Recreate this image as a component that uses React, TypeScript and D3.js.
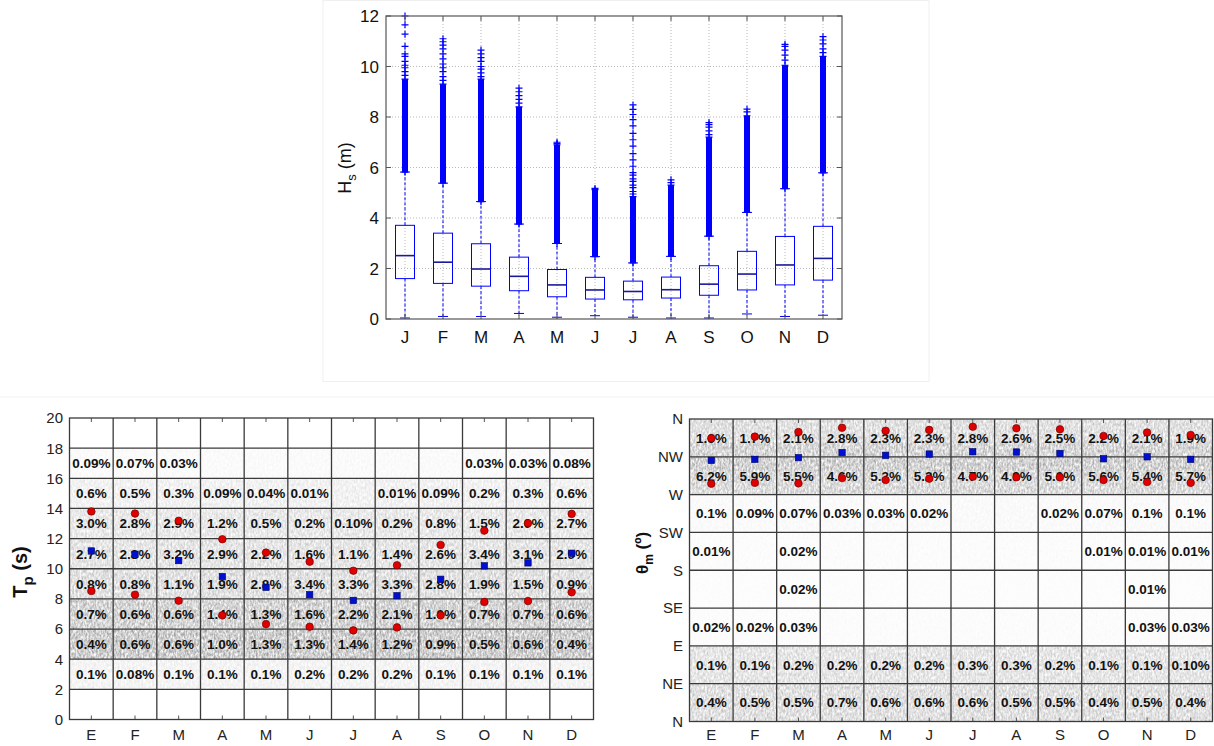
import React from "react";
import * as d3 from "d3";

// ---------- data ----------
const monthsTop = ["J", "F", "M", "A", "M", "J", "J", "A", "S", "O", "N", "D"];
const monthsBottom = ["E", "F", "M", "A", "M", "J", "J", "A", "S", "O", "N", "D"];

// Monthly Hs box statistics (m)
const hsQ1 = [1.6, 1.41, 1.3, 1.12, 0.88, 0.79, 0.76, 0.83, 0.94, 1.15, 1.35, 1.54];
const hsMedian = [2.51, 2.25, 1.98, 1.69, 1.35, 1.15, 1.09, 1.16, 1.38, 1.78, 2.14, 2.4];
const hsQ3 = [3.71, 3.4, 2.98, 2.45, 1.96, 1.65, 1.5, 1.66, 2.11, 2.68, 3.27, 3.67];
const hsWhiskerLow = [0.04, 0.1, 0.1, 0.22, 0.07, 0.13, 0.07, 0.04, 0.04, 0.2, 0.1, 0.15];
const hsWhiskerHigh = [5.82, 5.38, 4.65, 3.76, 2.99, 2.47, 2.22, 2.48, 3.28, 4.22, 5.16, 5.79];
// outliers packed so densely that they merge into a continuous band
const hsDenseTop = [9.5, 9.3, 9.5, 8.4, 6.9, 5.12, 4.85, 5.3, 7.2, 8.05, 10.05, 10.4];
// remaining individual outliers
const hsOutliers = [
  [9.65, 9.8, 9.95, 10.05, 10.2, 10.4, 10.5, 10.8, 11.28, 11.65, 12.0],
  [9.45, 9.6, 9.8, 9.95, 10.1, 10.3, 10.5, 10.7, 10.85, 10.98, 11.1],
  [9.6, 9.75, 9.9, 10.0, 10.2, 10.35, 10.5, 10.65],
  [8.55, 8.7, 8.85, 9.0, 9.14],
  [6.95, 7.0],
  [5.17],
  [4.95, 5.05, 5.2, 5.3, 5.45, 5.55, 5.7, 5.8, 6.05, 6.3, 6.55, 6.85, 7.1, 7.35, 7.65, 7.9, 8.1, 8.3, 8.48],
  [5.4, 5.51],
  [7.3, 7.45, 7.6, 7.7, 7.78],
  [8.2, 8.31],
  [10.25, 10.45, 10.65, 10.8, 10.88],
  [10.55, 10.7, 10.9, 11.05, 11.18],
];

// Tp occurrence per month and 2 s bin (lower edge of bin)
const tpBins = [2, 4, 6, 8, 10, 12, 14, 16];
const tpPct = [
  ["0.1%", "0.08%", "0.1%", "0.1%", "0.1%", "0.2%", "0.2%", "0.2%", "0.1%", "0.1%", "0.1%", "0.1%"],
  ["0.4%", "0.6%", "0.6%", "1.0%", "1.3%", "1.3%", "1.4%", "1.2%", "0.9%", "0.5%", "0.6%", "0.4%"],
  ["0.7%", "0.6%", "0.6%", "1.4%", "1.3%", "1.6%", "2.2%", "2.1%", "1.0%", "0.7%", "0.7%", "0.6%"],
  ["0.8%", "0.8%", "1.1%", "1.9%", "2.8%", "3.4%", "3.3%", "3.3%", "2.8%", "1.9%", "1.5%", "0.9%"],
  ["2.7%", "2.8%", "3.2%", "2.9%", "2.2%", "1.6%", "1.1%", "1.4%", "2.6%", "3.4%", "3.1%", "2.9%"],
  ["3.0%", "2.8%", "2.9%", "1.2%", "0.5%", "0.2%", "0.10%", "0.2%", "0.8%", "1.5%", "2.0%", "2.7%"],
  ["0.6%", "0.5%", "0.3%", "0.09%", "0.04%", "0.01%", "", "0.01%", "0.09%", "0.2%", "0.3%", "0.6%"],
  ["0.09%", "0.07%", "0.03%", "", "", "", "", "", "", "0.03%", "0.03%", "0.08%"],
];
const tpPeakHigh = [13.8, 13.66, 13.18, 11.96, 11.07, 10.47, 9.87, 10.23, 11.58, 12.53, 13.02, 13.64];
const tpMean = [11.18, 10.96, 10.54, 9.48, 8.77, 8.28, 7.9, 8.21, 9.3, 10.19, 10.39, 11.03];
const tpPeakLow = [8.52, 8.28, 7.88, 6.91, 6.33, 6.15, 5.91, 6.11, 6.91, 7.8, 7.86, 8.44];

// Mean direction occurrence per month and 45° sector (lower edge of sector)
const dirBins = [0, 45, 90, 135, 180, 225, 270, 315];
const dirTicks = ["N", "NE", "E", "SE", "S", "SW", "W", "NW", "N"];
const dirPct = [
  ["0.4%", "0.5%", "0.5%", "0.7%", "0.6%", "0.6%", "0.6%", "0.5%", "0.5%", "0.4%", "0.5%", "0.4%"],
  ["0.1%", "0.1%", "0.2%", "0.2%", "0.2%", "0.2%", "0.3%", "0.3%", "0.2%", "0.1%", "0.1%", "0.10%"],
  ["0.02%", "0.02%", "0.03%", "", "", "", "", "", "", "", "0.03%", "0.03%"],
  ["", "", "0.02%", "", "", "", "", "", "", "", "0.01%", ""],
  ["0.01%", "", "0.02%", "", "", "", "", "", "", "0.01%", "0.01%", "0.01%"],
  ["0.1%", "0.09%", "0.07%", "0.03%", "0.03%", "0.02%", "", "", "0.02%", "0.07%", "0.1%", "0.1%"],
  ["6.2%", "5.9%", "5.5%", "4.6%", "5.3%", "5.2%", "4.7%", "4.9%", "5.0%", "5.6%", "5.4%", "5.7%"],
  ["1.6%", "1.7%", "2.1%", "2.8%", "2.3%", "2.3%", "2.8%", "2.6%", "2.5%", "2.2%", "2.1%", "1.9%"],
];
const dirPeakHigh = [337, 339, 344.5, 349.6, 346, 347, 350.8, 349, 347.7, 339.8, 344, 341];
const dirMean = [310.8, 312, 314, 320, 316.8, 318.3, 321, 320.7, 319, 312.7, 315, 312];
const dirPeakLow = [283, 284, 283.4, 289.7, 287.4, 289, 291.3, 290.6, 290.6, 287.4, 285, 284];

// ---------- layout ----------
const W = 1214;
const H = 746;
const FONT = "'Liberation Sans', Arial, Helvetica, sans-serif";
const BLUE = "#0000ff";
const monthIdx = d3.range(1, 13);

const xTop = d3.scaleLinear().domain([0.5, 12.5]).range([386, 842]);
const yTop = d3.scaleLinear().domain([0, 12]).range([319, 16]);

const xL = d3.scaleLinear().domain([0.5, 12.5]).range([69.5, 593.5]);
const yL = d3.scaleLinear().domain([0, 20]).range([719.5, 418]);

const xR = d3.scaleLinear().domain([0.5, 12.5]).range([689.5, 1212.5]);
const yR = d3.scaleLinear().domain([0, 360]).range([721.5, 419]);

// shading strength of the background sample cloud, per band
const tpShade = [0, 0.18, 0.8, 0.7, 0.5, 0.42, 0.36, 0.22, 0.07, 0];
const dirShade = [0.5, 0.42, 0.05, 0.04, 0.05, 0.08, 0.6, 0.5];

function Plus({ x, y }: { x: number; y: number }) {
  return (
    <path d={`M${x - 3.5},${y}H${x + 3.5}M${x},${y - 3.5}V${y + 3.5}`} stroke={BLUE} strokeWidth={1.2} />
  );
}

function TopChart() {
  const [x0, x1] = xTop.range();
  const [y0, y1] = yTop.range();
  const boxHalf = (xTop(1) - xTop(0)) * 0.25;
  const capHalf = 5;
  return (
    <g fontFamily={FONT}>
      <rect x={323} y={0.5} width={606} height={381} fill="none" stroke="#f0f0f0" />
      <rect x={x0} y={y1} width={x1 - x0} height={y0 - y1} fill="#fff" />
      {/* dotted grid */}
      {d3.range(2, 12, 2).map((v) => (
        <line key={"gy" + v} x1={x0} x2={x1} y1={yTop(v)} y2={yTop(v)} stroke="#b8b8b8" strokeDasharray="1,2" />
      ))}
      {monthIdx.map((m) => (
        <line key={"gx" + m} x1={xTop(m)} x2={xTop(m)} y1={y0} y2={y1} stroke="#b8b8b8" strokeDasharray="1,2" />
      ))}
      {/* boxes */}
      {monthIdx.map((m, i) => {
        const cx = xTop(m);
        return (
          <g key={"b" + m}>
            <line x1={cx} x2={cx} y1={yTop(hsQ3[i])} y2={yTop(hsWhiskerHigh[i])} stroke={BLUE} strokeDasharray="3,2" />
            <line x1={cx} x2={cx} y1={yTop(hsQ1[i])} y2={yTop(hsWhiskerLow[i])} stroke={BLUE} strokeDasharray="3,2" />
            <line x1={cx - capHalf} x2={cx + capHalf} y1={yTop(hsWhiskerLow[i])} y2={yTop(hsWhiskerLow[i])} stroke={BLUE} />
            <line x1={cx - capHalf} x2={cx + capHalf} y1={yTop(hsWhiskerHigh[i])} y2={yTop(hsWhiskerHigh[i])} stroke={BLUE} />
            <rect
              x={cx - boxHalf}
              y={yTop(hsQ3[i])}
              width={boxHalf * 2}
              height={yTop(hsQ1[i]) - yTop(hsQ3[i])}
              fill="none"
              stroke={BLUE}
            />
            <line x1={cx - boxHalf} x2={cx + boxHalf} y1={yTop(hsMedian[i])} y2={yTop(hsMedian[i])} stroke="#1a1a9a" strokeWidth={1.6} />
            {/* outliers */}
            <rect
              x={cx - 3}
              y={yTop(hsDenseTop[i])}
              width={6}
              height={yTop(hsWhiskerHigh[i]) - yTop(hsDenseTop[i])}
              fill={BLUE}
            />
            <Plus x={cx} y={yTop(hsWhiskerHigh[i])} />
            <Plus x={cx} y={yTop(hsDenseTop[i])} />
            {hsOutliers[i].map((v, k) => (
              <Plus key={k} x={cx} y={yTop(v)} />
            ))}
          </g>
        );
      })}
      {/* frame and ticks */}
      <rect x={x0} y={y1} width={x1 - x0} height={y0 - y1} fill="none" stroke="#555" strokeWidth={1.2} />
      {monthIdx.map((m) => (
        <g key={"t" + m}>
          <line x1={xTop(m)} x2={xTop(m)} y1={y0} y2={y0 - 5} stroke="#555" />
          <line x1={xTop(m)} x2={xTop(m)} y1={y1} y2={y1 + 5} stroke="#555" />
          <text x={xTop(m)} y={343} fontSize={17} textAnchor="middle" fill="#111">
            {monthsTop[m - 1]}
          </text>
        </g>
      ))}
      {d3.range(0, 14, 2).map((v) => (
        <g key={"ty" + v}>
          <line x1={x0} x2={x0 + 5} y1={yTop(v)} y2={yTop(v)} stroke="#555" />
          <line x1={x1} x2={x1 - 5} y1={yTop(v)} y2={yTop(v)} stroke="#555" />
          <text x={379} y={yTop(v)} dy="0.36em" fontSize={17} textAnchor="end" fill="#111">
            {v}
          </text>
        </g>
      ))}
      <text transform="translate(351,168) rotate(-90)" fontSize={18} textAnchor="middle" fill="#111">
        H<tspan fontSize={13} dy={5}>s</tspan>
        <tspan dy={-5}> (m)</tspan>
      </text>
    </g>
  );
}

function Markers({
  xs,
  ys,
  hi,
  mean,
  lo,
}: {
  xs: d3.ScaleLinear<number, number>;
  ys: d3.ScaleLinear<number, number>;
  hi: number[];
  mean: number[];
  lo: number[];
}) {
  return (
    <g>
      {monthIdx.map((m, i) => (
        <g key={m}>
          <circle cx={xs(m)} cy={ys(hi[i])} r={3.8} fill="#e00000" stroke="#5a0000" strokeWidth={0.6} />
          <circle cx={xs(m)} cy={ys(lo[i])} r={3.8} fill="#e00000" stroke="#5a0000" strokeWidth={0.6} />
          <rect x={xs(m) - 3.2} y={ys(mean[i]) - 3.2} width={6.4} height={6.4} fill="#0010d0" stroke="#000060" strokeWidth={0.6} />
        </g>
      ))}
    </g>
  );
}

function GridPanel({
  xs,
  ys,
  bins,
  step,
  pct,
  shade,
  core,
  clipId,
}: {
  xs: d3.ScaleLinear<number, number>;
  ys: d3.ScaleLinear<number, number>;
  bins: number[];
  step: number;
  pct: string[][];
  shade: number[];
  core?: [number, number];
  clipId: string;
}) {
  const [x0, x1] = xs.range();
  const [y0, y1] = ys.range();
  const [d0, d1] = ys.domain();
  const lines = d3.range(d0 + step, d1, step);
  const shadeEdges = d3.range(d0, d1, step);
  return (
    <g>
      <clipPath id={clipId}>
        <rect x={x0} y={y1} width={x1 - x0} height={y0 - y1} />
      </clipPath>
      <rect x={x0} y={y1} width={x1 - x0} height={y0 - y1} fill="#fff" />
      <g clipPath={`url(#${clipId})`} filter="url(#grain)">
        {shadeEdges.map((v, k) => (
          <rect
            key={k}
            x={x0}
            y={ys(v + step)}
            width={x1 - x0}
            height={ys(v) - ys(v + step)}
            fill="#6a6a6a"
            fillOpacity={shade[k]}
          />
        ))}
        {core ? (
          <rect x={x0} y={ys(core[1])} width={x1 - x0} height={ys(core[0]) - ys(core[1])} fill="#6a6a6a" fillOpacity={0.35} />
        ) : null}
      </g>
      {lines.map((v) => (
        <line key={"h" + v} x1={x0} x2={x1} y1={ys(v)} y2={ys(v)} stroke="#3a3a3a" strokeWidth={1.3} />
      ))}
      {d3.range(1, 12).map((m) => (
        <line key={"v" + m} x1={xs(m + 0.5)} x2={xs(m + 0.5)} y1={y0} y2={y1} stroke="#3a3a3a" strokeWidth={1.3} />
      ))}
      {monthIdx.map((m) => (
        <g key={"t" + m}>
          <line x1={xs(m)} x2={xs(m)} y1={y0} y2={y0 - 4} stroke="#555" />
          <line x1={xs(m)} x2={xs(m)} y1={y1} y2={y1 + 4} stroke="#555" />
        </g>
      ))}
      {bins.map((b, r) =>
        pct[r].map((s, c) =>
          s ? (
            <text
              key={r + "-" + c}
              x={xs(c + 1)}
              y={ys(b + step / 2)}
              dy="0.36em"
              fontSize={13.5}
              fontWeight="bold"
              textAnchor="middle"
              fill="#111"
            >
              {s}
            </text>
          ) : null
        )
      )}
      <rect x={x0} y={y1} width={x1 - x0} height={y0 - y1} fill="none" stroke="#3a3a3a" strokeWidth={1.3} />
      {monthIdx.map((m) => (
        <text key={"xl" + m} x={xs(m)} y={740} fontSize={15} textAnchor="middle" fill="#222">
          {monthsBottom[m - 1]}
        </text>
      ))}
    </g>
  );
}

export default function App() {
  return (
    <div style={{ position: "absolute", left: 0, top: 0 }}>
      <svg width={W} height={H} style={{ display: "block", background: "#fff" }}>
        <defs>
          <filter id="grain" x="0" y="0" width="1" height="1" filterUnits="objectBoundingBox">
            <feTurbulence type="fractalNoise" baseFrequency="0.55 0.3" numOctaves={2} seed={4} result="noise" />
            <feColorMatrix
              in="noise"
              type="matrix"
              values="0 0 0 0 0  0 0 0 0 0  0 0 0 0 0  1.3 0 0 0 -0.25"
              result="mask"
            />
            <feComposite in="SourceGraphic" in2="mask" operator="in" />
          </filter>
        </defs>
        <g fontFamily={FONT}>
          <TopChart />
          <line x1={0} x2={W} y1={397} y2={397} stroke="#f2f2f2" />

          {/* Tp panel */}
          <GridPanel xs={xL} ys={yL} bins={tpBins} step={2} pct={tpPct} shade={tpShade} clipId="clipTp" />
          <Markers xs={xL} ys={yL} hi={tpPeakHigh} mean={tpMean} lo={tpPeakLow} />
          {d3.range(0, 22, 2).map((v) => (
            <text key={"ly" + v} x={63} y={yL(v)} dy="0.36em" fontSize={15} textAnchor="end" fill="#222">
              {v}
            </text>
          ))}
          <text transform="translate(27,572) rotate(-90)" fontSize={20} fontWeight="bold" textAnchor="middle" fill="#111">
            T<tspan fontSize={15} dy={6}>p</tspan>
            <tspan dy={-6}> (s)</tspan>
          </text>

          {/* direction panel */}
          <GridPanel xs={xR} ys={yR} bins={dirBins} step={45} pct={dirPct} shade={dirShade} core={[298, 332]} clipId="clipDir" />
          <Markers xs={xR} ys={yR} hi={dirPeakHigh} mean={dirMean} lo={dirPeakLow} />
          {dirTicks.map((t, k) => (
            <text key={"ry" + k} x={683} y={yR(k * 45)} dy="0.36em" fontSize={15} textAnchor="end" fill="#222">
              {t}
            </text>
          ))}
          <text transform="translate(648,553) rotate(-90)" fontSize={17} fontWeight="bold" textAnchor="middle" fill="#111">
            θ<tspan fontSize={12} dy={5}>m</tspan>
            <tspan dy={-5}> (º)</tspan>
          </text>
        </g>
      </svg>
    </div>
  );
}
